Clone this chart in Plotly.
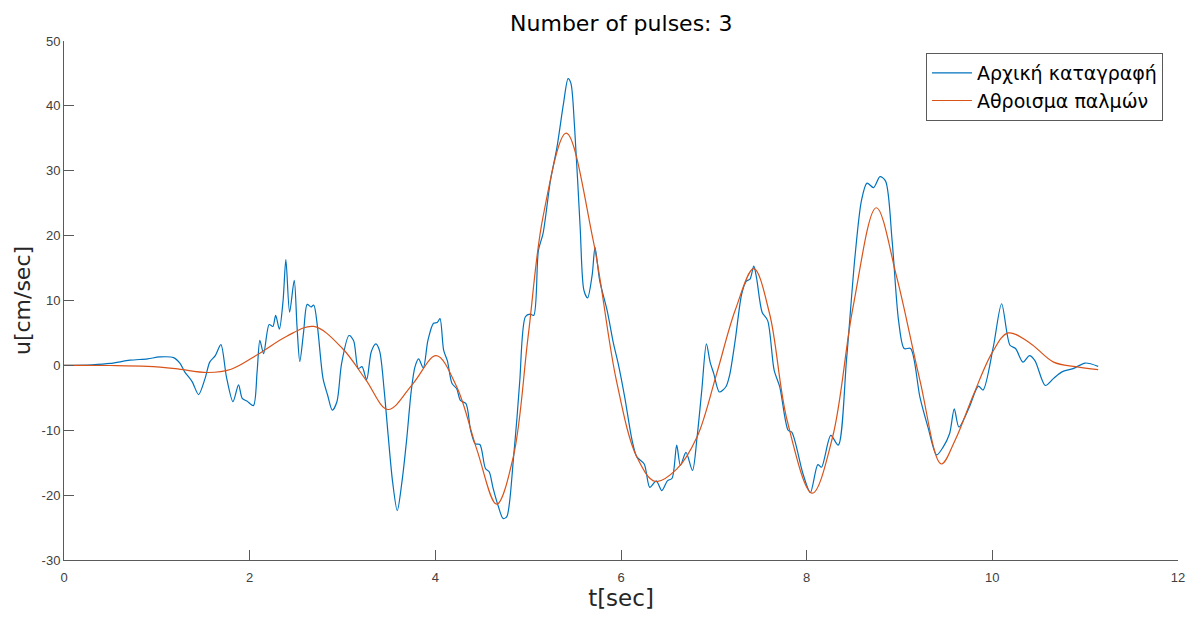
import plotly.graph_objects as go

# Original record (blue)
t_rec = [0, 0.3, 0.5, 0.71, 0.9, 1.03, 1.18, 1.25, 1.30, 1.38, 1.45, 1.52, 1.57, 1.63, 1.69, 1.75,
         1.82, 1.88, 1.92, 1.97, 2.04, 2.08, 2.11, 2.15, 2.21, 2.25, 2.28, 2.32, 2.36, 2.39, 2.43,
         2.48, 2.51, 2.54, 2.58, 2.62, 2.66, 2.69, 2.73, 2.79, 2.84, 2.89, 2.94, 2.99, 3.07, 3.12,
         3.17, 3.21, 3.26, 3.31, 3.36, 3.40, 3.45, 3.49, 3.54, 3.59, 3.64, 3.69, 3.74, 3.78, 3.82,
         3.87, 3.92, 3.98, 4.02, 4.05, 4.09, 4.13, 4.18, 4.23, 4.27, 4.33, 4.38, 4.43, 4.48, 4.54,
         4.58, 4.62, 4.68, 4.73, 4.77, 4.80, 4.84, 4.88, 4.91, 4.97, 5.02, 5.06, 5.11, 5.16, 5.24,
         5.31, 5.38, 5.43, 5.46, 5.50, 5.56, 5.60, 5.64, 5.69, 5.72, 5.77, 5.85, 5.92, 5.97, 6.04,
         6.12, 6.17, 6.25, 6.31, 6.38, 6.44, 6.50, 6.55, 6.60, 6.64, 6.70, 6.77, 6.82, 6.87, 6.92,
         6.96, 7.00, 7.06, 7.13, 7.17, 7.23, 7.30, 7.35, 7.39, 7.43, 7.46, 7.52, 7.58, 7.65, 7.71,
         7.80, 7.84, 7.96, 8.04, 8.12, 8.16, 8.26, 8.34, 8.43, 8.52, 8.59, 8.65, 8.72, 8.79, 8.85,
         8.92, 8.99, 9.05, 9.12, 9.22, 9.31, 9.40, 9.47, 9.54, 9.59, 9.64, 9.75, 9.85, 9.90, 10.01,
         10.10, 10.19, 10.25, 10.33, 10.40, 10.46, 10.57, 10.66, 10.75, 10.87, 11.0, 11.14]
u_rec = [0, 0.1, 0.3, 0.8, 1.0, 1.3, 1.2, 0.3, -1.0, -2.5, -4.5, -2.0, 0.5, 1.5, 3.2, -1.8,
         -5.6, -3.0, -5.1, -5.5, -6.2, -1.0, 3.85, 1.8, 6.3, 6.0, 7.7, 5.6, 10.0, 16.3, 8.2,
         13.1, 6.0, 0.6, 5.0, 9.4, 9.0, 9.3, 6.0, -2.0, -4.6, -6.9, -5.6, 0.26, 4.6, 3.8,
         -0.5, -0.2, -2.2, 2.1, 3.3, 2.2, -4.0, -10.5, -18.0, -22.4, -18.0, -11.6, -4.0, -0.26, 1.0,
         -0.4, 3.85, 6.5, 6.6, 7.2, 2.3, 0.7, -2.8, -3.6, -5.4, -5.9, -10.0, -12.1, -12.2, -15.9,
         -16.4, -18.8, -21.8, -23.6, -23.3, -21.0, -14.6, -8.0, -2.3, 7.5, 7.9, 7.7, 17.7, 20.3, 28.5,
         33.6, 40.3, 44.2, 43.5, 36.7, 21.3, 11.6, 10.4, 14.0, 18.2, 13.1, 8.5, 3.3, 0.26, -4.9,
         -11.6, -14.1, -15.2, -18.8, -17.8, -19.3, -17.8, -17.4, -12.3, -15.4, -13.4, -16.2, -11.0, -3.85, 3.3,
         0.5, -1.3, -4.1, -3.3, -1.5, 3.85, 11.0, 13.0, 13.3, 15.3, 13.5, 8.2, 6.9, -0.77, -3.3,
         -10.0, -10.3, -16.7, -19.6, -15.3, -15.7, -10.8, -12.3, 1.0, 16.7, 25.4, 28.1, 27.4, 29.1, 28.4,
         19.3, 6.9, 2.6, 2.6, -4.9, -9.7, -13.8, -12.6, -10.5, -6.7, -9.5, -6.5, -3.2, -3.8, 2.8,
         9.5, 3.1, 2.6, 0.5, 1.5, 0.7, -3.1, -2.0, -1.0, -0.5, 0.36, -0.15]

# Sum of pulses (red)
t_sum = [0, 0.5, 0.9, 1.2, 1.55, 1.8, 2.1, 2.4, 2.69, 3.0, 3.25, 3.49, 3.76, 4.01, 4.23, 4.45,
         4.66, 4.84, 5.0, 5.16, 5.41, 5.70, 5.95, 6.17, 6.37, 6.6, 6.82, 7.03, 7.23, 7.43, 7.6,
         7.79, 8.06, 8.28, 8.5, 8.75, 8.97, 9.22, 9.45, 9.6, 9.8, 10.0, 10.17, 10.4, 10.66, 10.9, 11.14]
u_sum = [0, -0.02, -0.15, -0.5, -1.1, -0.6, 1.8, 4.5, 6.0, 2.6, -2.2, -6.8, -2.8, 1.5, -3.3, -13.1,
         -21.4, -14.1, 4.5, 22.9, 35.8, 19.3, -2.3, -14.1, -17.9, -16.0, -11.0, -1.3, 8.5, 14.9, 8.0,
         -8.5, -19.7, -11.0, 9.0, 24.3, 13.6, -2.3, -15.2, -11.5, -4.4, 2.0, 5.0, 3.5, 0.5, -0.2, -0.67]

series_names = ["Αρχική καταγραφή", "Αθροισμα παλμών"]
x_ticks = [0, 2, 4, 6, 8, 10, 12]
y_ticks = [-30, -20, -10, 0, 10, 20, 30, 40, 50]

fig = go.Figure()
fig.add_trace(go.Scatter(x=t_rec, y=u_rec, mode="lines", name=series_names[0],
                         line=dict(color="#0072BD", width=1.2, shape="spline", smoothing=0.8)))
fig.add_trace(go.Scatter(x=t_sum, y=u_sum, mode="lines", name=series_names[1],
                         line=dict(color="#D95319", width=1.2, shape="spline", smoothing=1.0)))

axis_common = dict(showgrid=False, zeroline=False, showline=True, linecolor="#5a5a5a", linewidth=1,
                   ticks="inside", ticklen=10, tickcolor="#5a5a5a", mirror=False,
                   tickfont=dict(family="Liberation Sans, Arial", size=13, color="#404040"))

title_font = "DejaVu Sans, Verdana, sans-serif"

fig.update_layout(
    width=1198, height=621,
    margin=dict(l=64, r=20, t=41, b=61),
    paper_bgcolor="white", plot_bgcolor="white",
    title=dict(text="Number of pulses: 3", x=0.5186, xanchor="center", y=0.963, yanchor="middle",
               font=dict(family=title_font, size=22, color="#000000")),
    xaxis=dict(range=[0, 12], tickvals=x_ticks, ticktext=[str(v) for v in x_ticks],
               ticklabelstandoff=5,
               title=dict(text="t[sec]", standoff=4,
                          font=dict(family=title_font, size=23, color="#262626")), **axis_common),
    yaxis=dict(range=[-30, 50], tickvals=y_ticks, ticktext=[str(v) for v in y_ticks],
               title=dict(text="u[cm/sec]", standoff=4,
                          font=dict(family=title_font, size=22, color="#262626")), **axis_common),
    legend=dict(x=0.9865, y=0.977, xanchor="right", yanchor="top", bgcolor="white",
                bordercolor="#5a5a5a", borderwidth=1,
                font=dict(family=title_font, size=19, color="#000000"),
                itemwidth=40, tracegroupgap=0),
    showlegend=True,
)

fig.write_html("out.html")
